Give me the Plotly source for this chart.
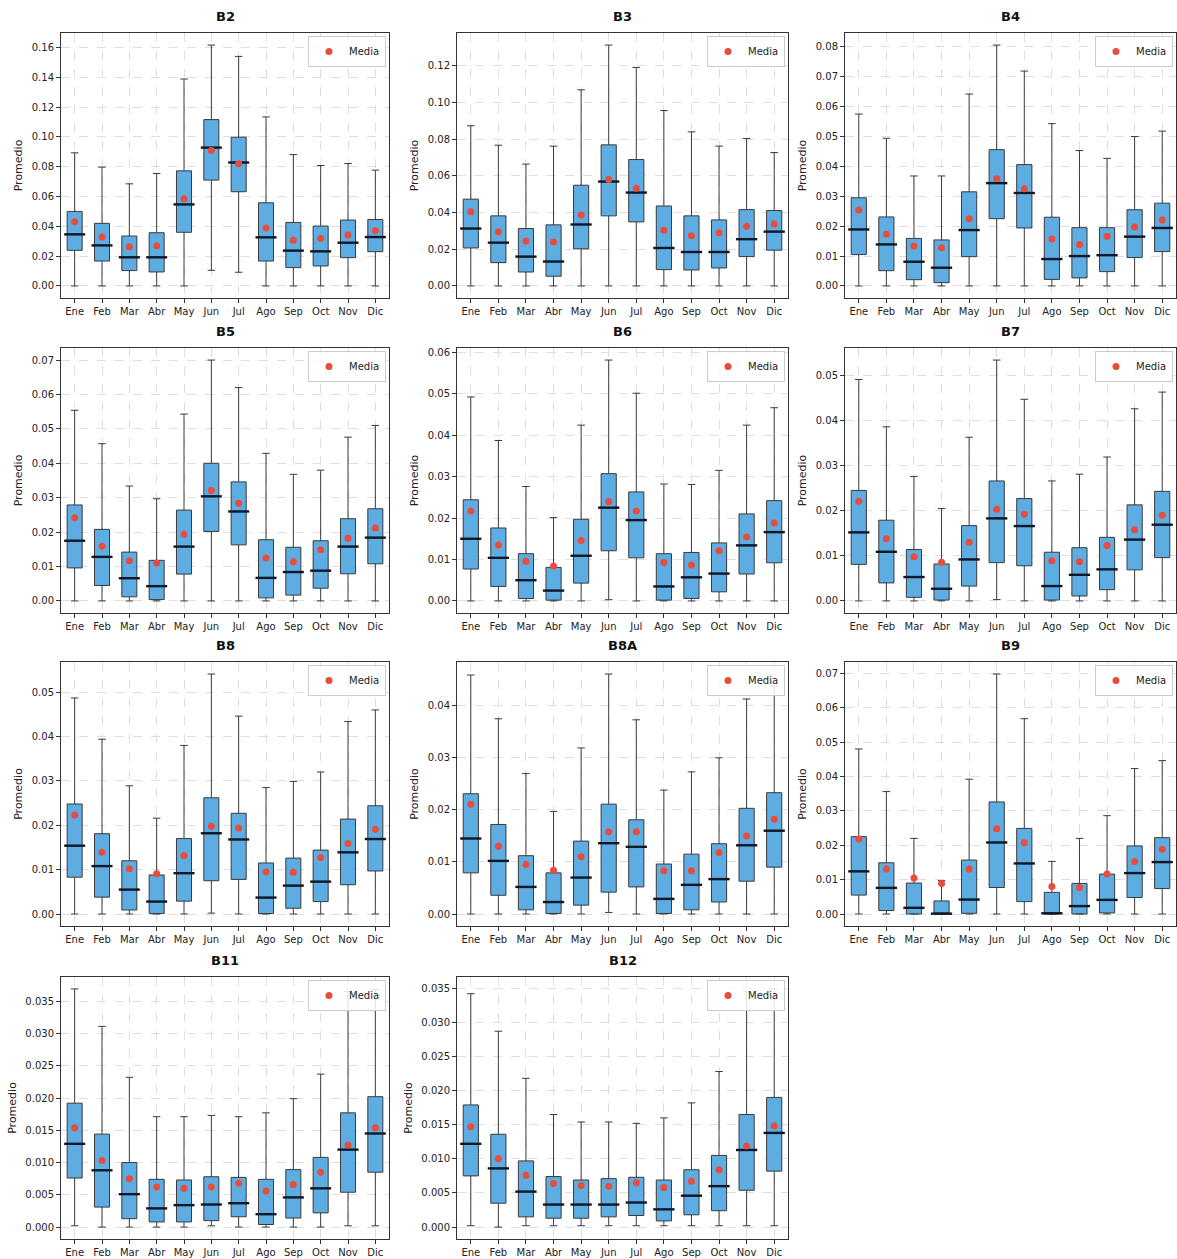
import plotly.graph_objects as go

months = ["Ene", "Feb", "Mar", "Abr", "May", "Jun", "Jul", "Ago", "Sep", "Oct", "Nov", "Dic"]
bands = ["B2", "B3", "B4", "B5", "B6", "B7", "B8", "B8A", "B9", "B11", "B12"]

# ---- B2 ----
B2_lo = [0, 0, 0, 0, 0, 0.0105, 0.0092, 0, 0, 0, 0, 0]
B2_q1 = [0.0239, 0.0167, 0.0103, 0.0094, 0.036, 0.071, 0.0632, 0.0167, 0.0123, 0.0134, 0.019, 0.023]
B2_med = [0.0346, 0.0272, 0.0192, 0.0192, 0.0547, 0.0928, 0.0828, 0.0326, 0.0237, 0.0232, 0.029, 0.0328]
B2_q3 = [0.050, 0.042, 0.0335, 0.0357, 0.0772, 0.1116, 0.0998, 0.0558, 0.0426, 0.0402, 0.0442, 0.0446]
B2_hi = [0.0893, 0.0797, 0.0685, 0.0754, 0.1388, 0.1616, 0.154, 0.1134, 0.0881, 0.0808, 0.0821, 0.0777]
B2_mean = [0.043, 0.0328, 0.0263, 0.027, 0.0585, 0.0908, 0.082, 0.0388, 0.0306, 0.0319, 0.0341, 0.037]

# ---- B3 ----
B3_lo = [0, 0, 0, 0, 0, 0, 0, 0, 0, 0, 0, 0]
B3_q1 = [0.0207, 0.0127, 0.0076, 0.0053, 0.0202, 0.0382, 0.0349, 0.0089, 0.0087, 0.0098, 0.016, 0.0195]
B3_med = [0.0313, 0.0236, 0.016, 0.0133, 0.0335, 0.0569, 0.0509, 0.0207, 0.0185, 0.0185, 0.0255, 0.0296]
B3_q3 = [0.0473, 0.0382, 0.0313, 0.0333, 0.0549, 0.0769, 0.0689, 0.0436, 0.0382, 0.036, 0.0416, 0.0411]
B3_hi = [0.0873, 0.0767, 0.0664, 0.0762, 0.1069, 0.1313, 0.1191, 0.0956, 0.084, 0.0762, 0.0804, 0.0727]
B3_mean = [0.0404, 0.0296, 0.0245, 0.024, 0.0387, 0.058, 0.0533, 0.0304, 0.0273, 0.029, 0.0325, 0.0338]

# ---- B4 ----
B4_lo = [0, 0, 0, 0, 0, 0, 0, 0, 0, 0, 0, 0]
B4_q1 = [0.0105, 0.0051, 0.0021, 0.0011, 0.0098, 0.0225, 0.0194, 0.0022, 0.0027, 0.0048, 0.0095, 0.0115]
B4_med = [0.0189, 0.0139, 0.0081, 0.0061, 0.0187, 0.0344, 0.0311, 0.009, 0.01, 0.0103, 0.0165, 0.0194]
B4_q3 = [0.0295, 0.0231, 0.0159, 0.0154, 0.0315, 0.0456, 0.0406, 0.023, 0.0195, 0.0195, 0.0255, 0.0277]
B4_hi = [0.0575, 0.0494, 0.0368, 0.0368, 0.0642, 0.0806, 0.0719, 0.0543, 0.0453, 0.0427, 0.05, 0.0518]
B4_mean = [0.0254, 0.0173, 0.0134, 0.0128, 0.0225, 0.0359, 0.0325, 0.0157, 0.0139, 0.0166, 0.0197, 0.0221]

# ---- B5 ----
B5_lo = [0, 0, 0, 0, 0, 0, 0, 0, 0, 0, 0, 0]
B5_q1 = [0.0096, 0.0045, 0.0012, 0.0004, 0.0078, 0.0202, 0.0163, 0.0009, 0.0017, 0.0037, 0.0079, 0.0108]
B5_med = [0.0175, 0.0128, 0.0066, 0.0043, 0.0158, 0.0304, 0.026, 0.0067, 0.0084, 0.0088, 0.0158, 0.0184]
B5_q3 = [0.0279, 0.0208, 0.0142, 0.0118, 0.0264, 0.04, 0.0346, 0.0178, 0.0156, 0.0175, 0.0239, 0.0268]
B5_hi = [0.0554, 0.0457, 0.0334, 0.0297, 0.0543, 0.07, 0.062, 0.0429, 0.0368, 0.038, 0.0476, 0.051]
B5_mean = [0.0242, 0.0159, 0.0117, 0.011, 0.0194, 0.0321, 0.0284, 0.0125, 0.0114, 0.0149, 0.0182, 0.0212]

# ---- B6 ----
B6_lo = [0, 0, 0, 0, 0, 0.0003, 0, 0, 0, 0, 0, 0]
B6_q1 = [0.0077, 0.0035, 0.0006, 0.0002, 0.0043, 0.0121, 0.0104, 0.0002, 0.0006, 0.0022, 0.0065, 0.0092]
B6_med = [0.015, 0.0104, 0.005, 0.0025, 0.0109, 0.0225, 0.0195, 0.0035, 0.0057, 0.0066, 0.0134, 0.0166]
B6_q3 = [0.0244, 0.0176, 0.0114, 0.0081, 0.0197, 0.0307, 0.0263, 0.0114, 0.0117, 0.014, 0.021, 0.0242]
B6_hi = [0.0492, 0.0387, 0.0276, 0.0201, 0.0424, 0.0581, 0.0501, 0.0282, 0.0281, 0.0315, 0.0424, 0.0466]
B6_mean = [0.0217, 0.0135, 0.0096, 0.0084, 0.0146, 0.024, 0.0217, 0.0093, 0.0087, 0.0121, 0.0154, 0.0188]

# ---- B7 ----
B7_lo = [0, 0, 0, 0, 0, 0.0003, 0, 0, 0, 0, 0, 0]
B7_q1 = [0.0081, 0.004, 0.0008, 0.0002, 0.0033, 0.0085, 0.0078, 0.0002, 0.0011, 0.0025, 0.0069, 0.0096]
B7_med = [0.0152, 0.0109, 0.0053, 0.0027, 0.0092, 0.0183, 0.0166, 0.0033, 0.0058, 0.007, 0.0136, 0.0169]
B7_q3 = [0.0245, 0.0179, 0.0114, 0.0082, 0.0167, 0.0266, 0.0227, 0.0108, 0.0118, 0.0141, 0.0213, 0.0243]
B7_hi = [0.0491, 0.0386, 0.0276, 0.0205, 0.0363, 0.0534, 0.0447, 0.0266, 0.0281, 0.0319, 0.0426, 0.0463]
B7_mean = [0.0221, 0.0138, 0.0098, 0.0086, 0.013, 0.0203, 0.0192, 0.0089, 0.0087, 0.0123, 0.0158, 0.019]

# ---- B8 ----
B8_lo = [0, 0, 0, 0, 0, 0.0002, 0, 0, 0, 0, 0, 0]
B8_q1 = [0.0083, 0.0038, 0.0009, 0.0001, 0.0029, 0.0075, 0.0078, 0.0001, 0.0013, 0.0028, 0.0066, 0.0097]
B8_med = [0.0154, 0.0108, 0.0055, 0.0028, 0.0092, 0.0182, 0.0168, 0.0037, 0.0064, 0.0073, 0.0139, 0.0169]
B8_q3 = [0.0248, 0.0181, 0.012, 0.0088, 0.017, 0.0262, 0.0227, 0.0115, 0.0126, 0.0144, 0.0214, 0.0244]
B8_hi = [0.0487, 0.0394, 0.0289, 0.0216, 0.038, 0.0541, 0.0446, 0.0285, 0.0299, 0.032, 0.0434, 0.046]
B8_mean = [0.0223, 0.0139, 0.0102, 0.0091, 0.0132, 0.0198, 0.0194, 0.0095, 0.0094, 0.0127, 0.0159, 0.0191]

# ---- B8A ----
B8A_lo = [0, 0, 0, 0, 0, 0.0003, 0, 0, 0, 0, 0, 0]
B8A_q1 = [0.0079, 0.0036, 0.0008, 0.0001, 0.0017, 0.0042, 0.0052, 0.0001, 0.0008, 0.0023, 0.0063, 0.009]
B8A_med = [0.0145, 0.0102, 0.0052, 0.0023, 0.007, 0.0136, 0.0129, 0.0029, 0.0056, 0.0067, 0.0132, 0.016]
B8A_q3 = [0.0231, 0.0172, 0.0112, 0.0079, 0.014, 0.0211, 0.0181, 0.0096, 0.0115, 0.0135, 0.0203, 0.0233]
B8A_hi = [0.0459, 0.0375, 0.027, 0.0197, 0.0319, 0.0461, 0.0373, 0.0238, 0.0273, 0.03, 0.0413, 0.0438]
B8A_mean = [0.0211, 0.013, 0.0095, 0.0084, 0.011, 0.0158, 0.0158, 0.0083, 0.0083, 0.0118, 0.015, 0.0182]

# ---- B9 ----
B9_lo = [0, 0, 0, 0, 0, 0, 0, 0, 0, 0, 0, 0]
B9_q1 = [0.0055, 0.001, 0.0, 0.0, 0.0002, 0.0077, 0.0036, 0.0, 0.0, 0.0003, 0.0048, 0.0074]
B9_med = [0.0124, 0.0076, 0.0018, 0.0001, 0.0042, 0.0208, 0.0147, 0.0002, 0.0023, 0.0041, 0.0119, 0.0151]
B9_q3 = [0.0225, 0.0149, 0.009, 0.0038, 0.0157, 0.0326, 0.0249, 0.0063, 0.0089, 0.0116, 0.0198, 0.0222]
B9_hi = [0.048, 0.0356, 0.022, 0.0097, 0.0392, 0.0698, 0.0568, 0.0153, 0.022, 0.0286, 0.0423, 0.0446]
B9_mean = [0.0218, 0.0131, 0.0105, 0.0089, 0.0131, 0.0248, 0.0207, 0.008, 0.0077, 0.0116, 0.0153, 0.0188]

# ---- B11 ----
B11_lo = [0.0002, 0, 0, 0, 0, 0.0002, 0, 0, 0, 0, 0.0002, 0.0002]
B11_q1 = [0.0076, 0.0031, 0.0013, 0.0008, 0.0008, 0.001, 0.0016, 0.0004, 0.0014, 0.0022, 0.0054, 0.0085]
B11_med = [0.0129, 0.0088, 0.0051, 0.0029, 0.0034, 0.0035, 0.0037, 0.002, 0.0046, 0.006, 0.012, 0.0145]
B11_q3 = [0.0192, 0.0144, 0.01, 0.0074, 0.0073, 0.0078, 0.0077, 0.0074, 0.0089, 0.0108, 0.0177, 0.0202]
B11_hi = [0.0369, 0.0311, 0.0232, 0.0171, 0.0171, 0.0173, 0.0171, 0.0177, 0.0199, 0.0237, 0.0365, 0.0368]
B11_mean = [0.0154, 0.0103, 0.0075, 0.0062, 0.006, 0.0062, 0.0068, 0.0056, 0.0066, 0.0085, 0.0127, 0.0154]

# ---- B12 ----
B12_lo = [0.0002, 0, 0.0002, 0.0002, 0.0002, 0.0002, 0.0002, 0.0002, 0.0002, 0.0002, 0.0002, 0.0002]
B12_q1 = [0.0075, 0.0035, 0.0015, 0.0013, 0.0013, 0.0015, 0.0017, 0.0009, 0.0018, 0.0024, 0.0054, 0.0082]
B12_med = [0.0122, 0.0086, 0.0052, 0.0033, 0.0033, 0.0033, 0.0036, 0.0026, 0.0046, 0.006, 0.0113, 0.0138]
B12_q3 = [0.0179, 0.0136, 0.0097, 0.0074, 0.0069, 0.0071, 0.0073, 0.0069, 0.0084, 0.0105, 0.0165, 0.019]
B12_hi = [0.0342, 0.0287, 0.0218, 0.0165, 0.0154, 0.0154, 0.0152, 0.016, 0.0182, 0.0228, 0.0345, 0.0349]
B12_mean = [0.0147, 0.01, 0.0076, 0.0064, 0.0061, 0.006, 0.0065, 0.0058, 0.0067, 0.0084, 0.0119, 0.0148]

band_stats = {
    "B2": (B2_lo, B2_q1, B2_med, B2_q3, B2_hi, B2_mean),
    "B3": (B3_lo, B3_q1, B3_med, B3_q3, B3_hi, B3_mean),
    "B4": (B4_lo, B4_q1, B4_med, B4_q3, B4_hi, B4_mean),
    "B5": (B5_lo, B5_q1, B5_med, B5_q3, B5_hi, B5_mean),
    "B6": (B6_lo, B6_q1, B6_med, B6_q3, B6_hi, B6_mean),
    "B7": (B7_lo, B7_q1, B7_med, B7_q3, B7_hi, B7_mean),
    "B8": (B8_lo, B8_q1, B8_med, B8_q3, B8_hi, B8_mean),
    "B8A": (B8A_lo, B8A_q1, B8A_med, B8A_q3, B8A_hi, B8A_mean),
    "B9": (B9_lo, B9_q1, B9_med, B9_q3, B9_hi, B9_mean),
    "B11": (B11_lo, B11_q1, B11_med, B11_q3, B11_hi, B11_mean),
    "B12": (B12_lo, B12_q1, B12_med, B12_q3, B12_hi, B12_mean),
}

# ---- layout geometry (pixels) ----
W, H = 1177, 1259
col_px = [(61, 389), (457, 788), (845, 1176)]
row_px = [(33, 298), (348, 613), (662, 926), (977, 1239)]
dticks = {"B2": 0.02, "B3": 0.02, "B11": 0.005, "B12": 0.005}
FONT = "DejaVu Sans"
BOX_W = 0.55

fig = go.Figure()
layout = dict(
    width=W, height=H, autosize=False,
    margin=dict(l=0, r=0, t=0, b=0),
    paper_bgcolor="white", plot_bgcolor="white",
    font=dict(family=FONT, size=10, color="#222222"),
    annotations=[],
)

for i, band in enumerate(bands):
    lo, q1, med, q3, hi, mean = band_stats[band]
    r, c = divmod(i, 3)
    x0, x1 = col_px[c]
    y0, y1 = row_px[r]
    s = "" if i == 0 else str(i + 1)
    xa, ya = "x" + s, "y" + s
    legname = "legend" + s

    fig.add_trace(go.Box(
        x=months, q1=q1, median=med, q3=q3, lowerfence=lo, upperfence=hi,
        xaxis=xa, yaxis=ya, fillcolor="#5DADE2",
        line=dict(color="#3a3a3a", width=1), width=BOX_W, whiskerwidth=0.5,
        boxpoints=False, showlegend=False, hoverinfo="skip",
    ))
    med_px = BOX_W * (x1 - x0) / 12.0
    fig.add_trace(go.Scatter(
        x=months, y=med, mode="markers", xaxis=xa, yaxis=ya,
        marker=dict(symbol="line-ew", size=med_px, color="#0d1726",
                    line=dict(width=2.4, color="#0d1726")),
        showlegend=False, hoverinfo="skip",
    ))
    fig.add_trace(go.Scatter(
        x=months, y=mean, mode="markers", xaxis=xa, yaxis=ya, name="Media",
        marker=dict(color="#e74c3c", size=7), legend=legname, showlegend=True,
    ))

    dmin = min(min(lo), min(mean))
    dmax = max(max(hi), max(mean))
    pad = 0.05 * (dmax - dmin)
    dt = dticks.get(band, 0.01)
    fmt = ".3f" if dt < 0.01 else ".2f"

    axis_common = dict(
        showline=True, mirror=True, linecolor="#333333", linewidth=1,
        ticks="outside", ticklen=4, tickcolor="#333333", tickwidth=1,
        showgrid=True, gridcolor="#dedede", griddash="dash", gridwidth=0.8,
        zeroline=False, automargin=False, tickfont=dict(size=10, color="#222222"),
    )
    layout["xaxis" + s] = dict(
        domain=[x0 / W, x1 / W], anchor=ya, type="category",
        categoryorder="array", categoryarray=months, range=[-0.5, 11.5],
        **axis_common,
    )
    layout["yaxis" + s] = dict(
        domain=[1 - y1 / H, 1 - y0 / H], anchor=xa,
        range=[dmin - pad, dmax + pad], dtick=dt, tick0=0, tickformat=fmt,
        title=dict(text="Promedio", font=dict(size=11, color="#222222"), standoff=6),
        **axis_common,
    )
    layout[legname] = dict(
        x=(x1 - 3) / W, y=1 - (y0 + 3) / H, xanchor="right", yanchor="top",
        bgcolor="rgba(255,255,255,0.85)", bordercolor="#cccccc", borderwidth=1,
        font=dict(size=10, color="#222222"),
    )
    layout["annotations"].append(dict(
        text="<b>%s</b>" % band, x=(x0 + x1) / 2 / W, y=1 - y0 / H,
        xref="paper", yref="paper", xanchor="center", yanchor="bottom",
        yshift=7, showarrow=False, font=dict(size=13, color="#111111"),
    ))

fig.update_layout(**layout)
fig.write_html(
    "out.html",
    config={"displayModeBar": False},
    post_script="document.body.style.margin='0';document.body.style.overflow='hidden';",
)
